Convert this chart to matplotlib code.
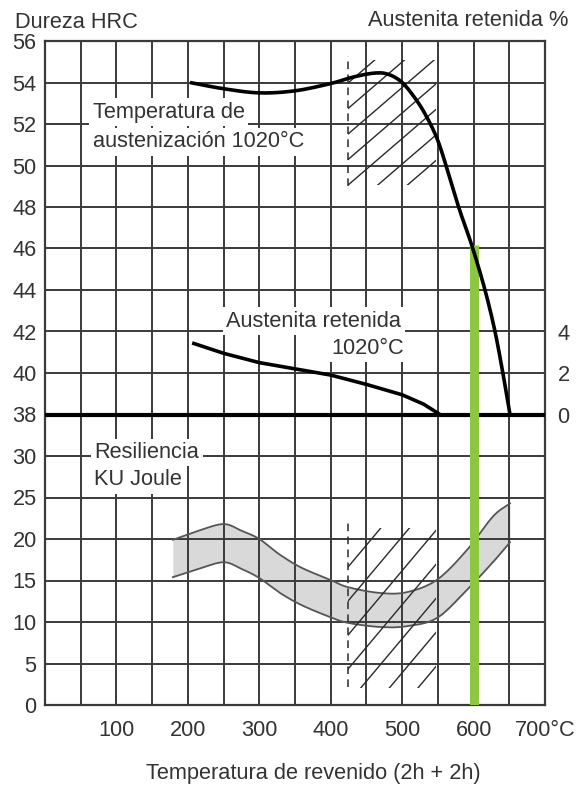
import numpy as np
import matplotlib
matplotlib.use("Agg")
import matplotlib.pyplot as plt
from matplotlib.patches import Rectangle

plt.rcParams['font.family'] = ['Liberation Sans', 'DejaVu Sans']

# --- data -------------------------------------------------------------
# Hardness after tempering (HRC) vs tempering temperature (deg C)
hard_T = [203, 250, 300, 350, 400, 430, 460, 480, 500, 520, 535, 550,
          565, 580, 598, 616, 630, 641, 651]
hard_HRC = [54.0, 53.7, 53.5, 53.6, 53.95, 54.25, 54.45, 54.4, 54.0, 53.15,
            52.3, 51.2, 49.6, 47.9, 46.1, 44.0, 42.0, 40.0, 38.0]

# Retained austenite (%)
aus_T = [206, 250, 300, 350, 400, 450, 500, 530, 553]
aus_pct = [3.45, 2.95, 2.5, 2.2, 1.9, 1.45, 0.95, 0.5, 0.0]

# Impact energy band KU (J)
res_T = [179, 215, 250, 275, 300, 329, 360, 399, 424, 469, 507, 549, 591, 627, 651]
res_hi = [19.9, 21.0, 21.8, 21.0, 20.0, 18.1, 16.5, 15.1, 14.2, 13.5, 13.6,
          15.1, 18.7, 22.7, 24.3]
res_lo = [15.4, 16.4, 17.2, 16.4, 15.3, 13.5, 12.0, 10.6, 9.9, 9.4, 9.5,
          10.5, 13.9, 17.2, 19.6]

# Selected tempering temperature
temper_sel = 600

# Axis ticks
x_ticks = [100, 200, 300, 400, 500, 600, 700]
x_labels = ['100', '200', '300', '400', '500', '600', '700°C']
res_ticks = [0, 5, 10, 15, 20, 25, 30]
hrc_ticks = [38, 40, 42, 44, 46, 48, 50, 52, 54, 56]
aus_ticks = [0, 2, 4]

# Secondary hardening zones (hatched)
zone_T = (424, 548)
zone_HRC = (49.05, 55.1)
zone_J = (2.0, 21.3)
dash_HRC = (49.0, 55.3)
dash_J = (2.2, 21.9)

# --- styling -----------------------------------------------------------
TXT = '#333333'
GRID = '#3a3a3a'
FS = 15.7


def smooth(xs, ys, n=12):
    """Catmull-Rom curve through the given points."""
    x = np.asarray(xs, float)
    y = np.asarray(ys, float)
    px = np.concatenate([[2 * x[0] - x[1]], x, [2 * x[-1] - x[-2]]])
    py = np.concatenate([[2 * y[0] - y[1]], y, [2 * y[-1] - y[-2]]])
    t = np.linspace(0, 1, n, endpoint=False)
    ox, oy = [], []
    for i in range(1, len(px) - 2):
        for arr, out in ((px, ox), (py, oy)):
            p0, p1, p2, p3 = arr[i - 1], arr[i], arr[i + 1], arr[i + 2]
            out.extend(0.5 * (2 * p1 + (-p0 + p2) * t
                              + (2 * p0 - 5 * p1 + 4 * p2 - p3) * t ** 2
                              + (-p0 + 3 * p1 - 3 * p2 + p3) * t ** 3))
    ox.append(x[-1])
    oy.append(y[-1])
    return np.array(ox), np.array(oy)


fig = plt.figure(figsize=(5.79, 7.89), dpi=100)
ax = fig.add_axes([45 / 579, 1 - 705 / 789, 500 / 579, 664 / 789])

# Base axis: impact energy (J); 16 rows of 5 J each
ax.set_xlim(0, 700)
ax.set_ylim(0, 80)
ax.set_xticks(x_ticks)
ax.set_xticklabels(x_labels)
ax.set_yticks(res_ticks)
ax.set_yticklabels([str(v) for v in res_ticks])
for gx in np.arange(50, 700, 50):
    ax.axvline(gx, color=GRID, lw=1.4, zorder=1.5)
for gy in np.arange(5, 80, 5):
    ax.axhline(gy, color=GRID, lw=1.4, zorder=1.5)
ax.tick_params(which='both', length=0, labelsize=FS, labelcolor=TXT)
ax.tick_params(axis='x', pad=11)
ax.tick_params(axis='y', pad=6)
for s in ax.spines.values():
    s.set_color(GRID)
    s.set_linewidth(1.6)

# Hardness axis, sharing the left side
ax_h = ax.twinx()
ax_h.set_ylim(24, 56)
ax_h.yaxis.tick_left()
ax_h.set_yticks(hrc_ticks)
ax_h.tick_params(length=0, labelsize=FS, labelcolor=TXT, pad=6)
for s in ax_h.spines.values():
    s.set_visible(False)

# Retained austenite axis on the right
ax_a = ax.twinx()
ax_a.set_ylim(-14, 18)
ax_a.set_yticks(aus_ticks)
ax_a.tick_params(length=0, labelsize=FS, labelcolor=TXT, pad=9)
for s in ax_a.spines.values():
    s.set_visible(False)

# Impact energy band
bx, bhi = smooth(res_T, res_hi)
_, blo = smooth(res_T, res_lo)
ax.fill_between(bx, blo, bhi, color='#d9d9d9', lw=0, zorder=1)
ax.plot(bx, bhi, color='#555555', lw=1.3, zorder=2)
ax.plot(bx, blo, color='#555555', lw=1.3, zorder=2)


def hatch(axis, t_rng, v_rng, slope, starts, step, n):
    clip = Rectangle((t_rng[0], v_rng[0]), t_rng[1] - t_rng[0],
                     v_rng[1] - v_rng[0], transform=axis.transData,
                     fill=False, lw=0)
    axis.add_patch(clip)
    clip.set_visible(False)
    tt = np.array([t_rng[0] - 200, t_rng[1]])
    for i in range(n):
        c = starts - i * step
        ln, = axis.plot(tt, c + slope * (tt - t_rng[1]), color='#2a2a2a',
                        lw=1.0, zorder=2.5)
        ln.set_clip_path(clip)


# Hatched zones and their dashed boundaries
hatch(ax_h, zone_T, zone_HRC, 0.0296, 57.64, 1.23, 7)
hatch(ax, zone_T, zone_J, 0.1024, 29.3, 4.1, 7)
ax_h.plot([zone_T[0], zone_T[0]], dash_HRC, color='#2a2a2a', lw=1.1,
          ls=(0, (5, 3.5)), zorder=2.5)
ax.plot([zone_T[0], zone_T[0]], dash_J, color='#2a2a2a', lw=1.1,
        ls=(0, (5, 3.5)), zorder=2.5)

# Zero line of retained austenite (= 38 HRC)
ax_h.axhline(38, color='black', lw=3.0, zorder=2)

# Selected tempering temperature marker
top_sel = np.interp(temper_sel, hard_T, hard_HRC) + 0.3
ax_h.vlines(temper_sel, 24, top_sel, color='#8dc63f', lw=6.5, zorder=3)

# Curves
hx, hy = smooth(hard_T, hard_HRC)
ax_h.plot(hx, hy, color='black', lw=2.6, zorder=4, solid_capstyle='butt')
ax_a.plot(aus_T, aus_pct, color='black', lw=2.6, zorder=4,
          solid_capstyle='butt')

# In-plot labels with white boxes
box = dict(facecolor='white', edgecolor='none', pad=2.5)
ax_h.text(67, 52.29, 'Temperatura de', fontsize=FS, color=TXT,
          va='baseline', ha='left', bbox=box, zorder=5)
ax_h.text(67, 50.89, 'austenización 1020°C', fontsize=FS, color=TXT,
          va='baseline', ha='left', bbox=box, zorder=5)
ax_h.text(254, 42.22, 'Austenita retenida', fontsize=FS, color=TXT,
          va='baseline', ha='left', bbox=box, zorder=5)
ax_h.text(502, 40.92, '1020°C', fontsize=FS, color=TXT,
          va='baseline', ha='right', bbox=box, zorder=5)
ax.text(69, 29.76, 'Resiliencia', fontsize=FS, color=TXT,
        va='baseline', ha='left', bbox=box, zorder=5)
ax.text(69, 26.5, 'KU Joule', fontsize=FS, color=TXT,
        va='baseline', ha='left', bbox=box, zorder=5)

# Axis titles
fig.text(15 / 579, 1 - 23 / 789, 'Dureza HRC', fontsize=FS, color=TXT,
         ha='left', va='center')
fig.text(568 / 579, 1 - 21 / 789, 'Austenita retenida %', fontsize=FS,
         color=TXT, ha='right', va='center')
fig.text(313 / 579, 1 - 773 / 789, 'Temperatura de revenido (2h + 2h)',
         fontsize=FS, color=TXT, ha='center', va='center')

fig.savefig('out.png', dpi=100, facecolor='white')
